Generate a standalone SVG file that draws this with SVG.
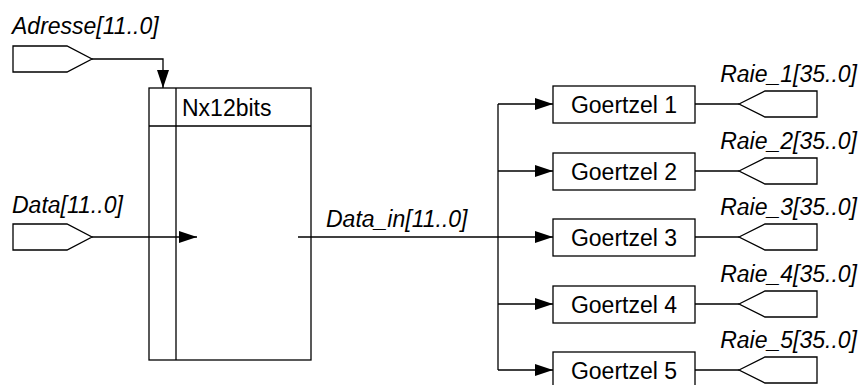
<svg xmlns="http://www.w3.org/2000/svg" width="861" height="385" viewBox="0 0 861 385">
<defs>
<marker id="arr" viewBox="0 0 18 12" refX="18" refY="6" markerWidth="18" markerHeight="12" markerUnits="userSpaceOnUse" orient="auto">
<path d="M0,0 L18,6 L0,12 Z" fill="#000"/>
</marker>
</defs>
<style>
.s{fill:none;stroke:#000;stroke-width:1.3}
.b{fill:#fff;stroke:#000;stroke-width:1.3}
.t{font-family:"Liberation Sans",Arial,sans-serif;font-size:23px;fill:#000}
.i{font-style:italic}
.c{text-anchor:middle}
.e{text-anchor:end}
</style>
<rect width="861" height="385" fill="#fff"/>
<g id="connectors">
<path class="s" d="M92,59 H163 V88" marker-end="url(#arr)"/>
<path class="s" d="M92,237 H197" marker-end="url(#arr)"/>
<path class="s" d="M298,237 H553" marker-end="url(#arr)"/>
<path class="s" d="M498,104 V370"/>
<path class="s" d="M498,104 H553" marker-end="url(#arr)"/>
<path class="s" d="M498,171 H553" marker-end="url(#arr)"/>
<path class="s" d="M498,304 H553" marker-end="url(#arr)"/>
<path class="s" d="M498,370 H553" marker-end="url(#arr)"/>
<path class="s" d="M695,104 H739 M695,171 H739 M695,237 H739 M695,304 H739 M695,370 H739"/>
</g>
<g id="pin-adresse">
<path class="b" d="M13,46 H67 L92,59 L67,72 H13 Z"/>
<text class="t i" x="12" y="34">Adresse[11..0]</text>
</g>
<g id="pin-data">
<path class="b" d="M13,224 H67 L92,237 L67,250 H13 Z"/>
<text class="t i" x="12" y="213">Data[11..0]</text>
</g>
<g id="memory">
<rect class="s" x="149" y="88" width="162" height="272"/>
<path class="s" d="M176,88 V360 M149,126 H311"/>
<text class="t" x="182" y="116">Nx12bits</text>
</g>
<text class="t i" x="326" y="227">Data_in[11..0]</text>
<g id="goertzel1"><rect class="b" x="553" y="86" width="142" height="37"/><text class="t c" x="624" y="113">Goertzel 1</text></g>
<g id="goertzel2"><rect class="b" x="553" y="153" width="142" height="37"/><text class="t c" x="624" y="180">Goertzel 2</text></g>
<g id="goertzel3"><rect class="b" x="553" y="219" width="142" height="37"/><text class="t c" x="624" y="246">Goertzel 3</text></g>
<g id="goertzel4"><rect class="b" x="553" y="286" width="142" height="37"/><text class="t c" x="624" y="313">Goertzel 4</text></g>
<g id="goertzel5"><rect class="b" x="553" y="352" width="142" height="37"/><text class="t c" x="624" y="379">Goertzel 5</text></g>
<g id="pin-raie1"><path class="b" d="M739,104 L765,91 H817 V117 H765 Z"/><text class="t i e" x="857" y="82">Raie_1[35..0]</text></g>
<g id="pin-raie2"><path class="b" d="M739,171 L765,158 H817 V184 H765 Z"/><text class="t i e" x="857" y="149">Raie_2[35..0]</text></g>
<g id="pin-raie3"><path class="b" d="M739,237 L765,224 H817 V250 H765 Z"/><text class="t i e" x="857" y="215">Raie_3[35..0]</text></g>
<g id="pin-raie4"><path class="b" d="M739,304 L765,291 H817 V317 H765 Z"/><text class="t i e" x="857" y="282">Raie_4[35..0]</text></g>
<g id="pin-raie5"><path class="b" d="M739,370 L765,357 H817 V383 H765 Z"/><text class="t i e" x="857" y="348">Raie_5[35..0]</text></g>
</svg>
